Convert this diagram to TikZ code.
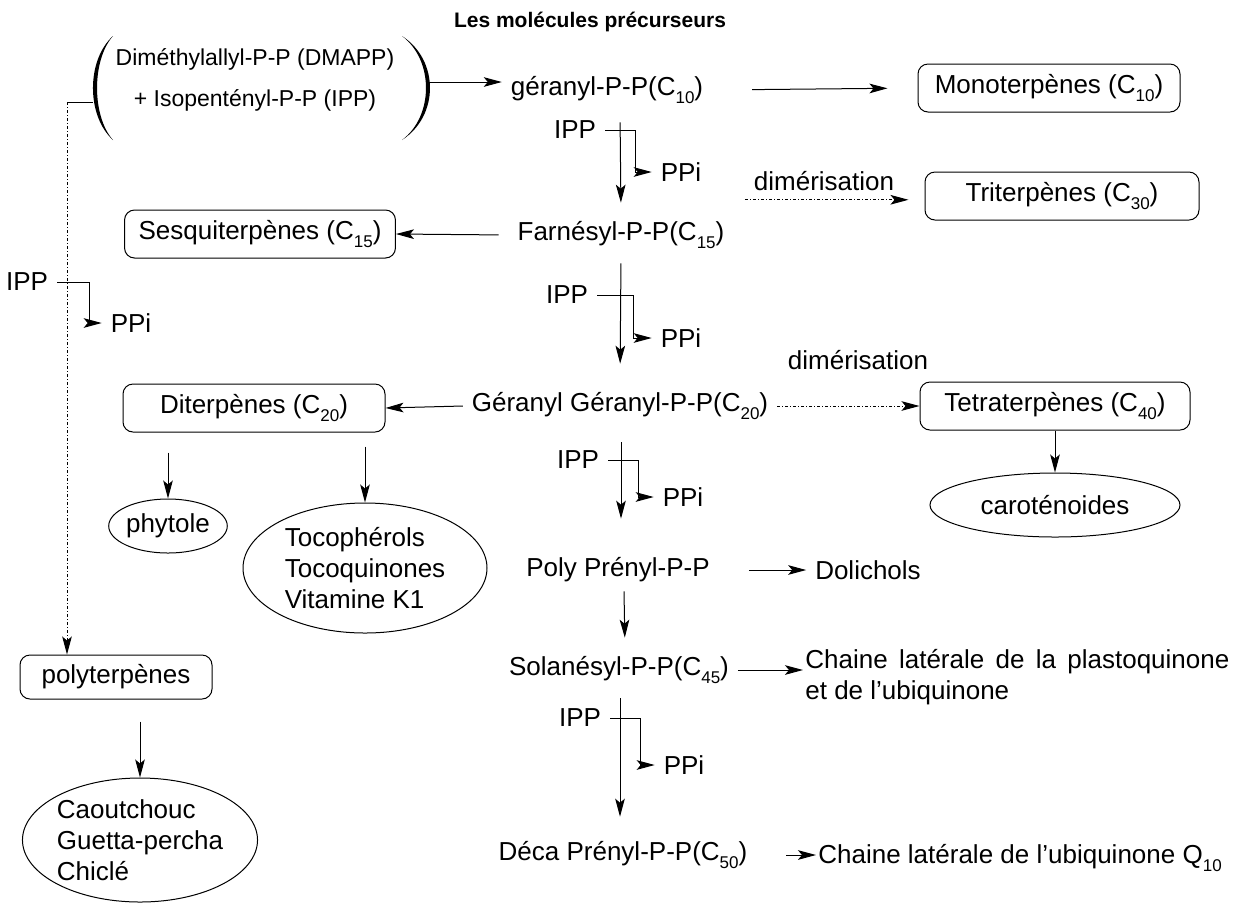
\documentclass[tikz,border=0pt]{standalone}
\usepackage{fontspec}
\setmainfont{Liberation Sans}
\usetikzlibrary{arrows.meta,shapes.geometric}
\newcommand\lowidx[1]{\raisebox{-3.6pt}{\fontsize{8.5pt}{9pt}\selectfont #1}}

\begin{document}
\begin{tikzpicture}[x=0.5pt, y=-0.5pt,
  line/.style={-{Stealth[length=9pt,width=4.8pt,inset=2pt]}, draw=black, line width=0.5pt},
  plain/.style={draw=black, line width=0.5pt},
  dimer/.style={line, dash pattern=on 1.6pt off 1pt on 0.4pt off 1pt},
  box/.style={draw=black, rounded corners=5pt, line width=0.5pt, minimum height=24pt, inner xsep=7pt},
  blob/.style={ellipse, draw=black, line width=0.5pt, inner sep=0pt, align=left},
  node font=\fontsize{13pt}{15.6pt}\selectfont]

  \useasboundingbox (0,0) rectangle (1239,918);

  \node (title) at (590,22) {\fontsize{10.5pt}{12pt}\selectfont\bfseries Les molécules précurseurs};

  % precursors and main chain
  \node[inner sep=0pt, minimum width=172pt, align=center, font=\fontsize{11.5pt}{13.8pt}\selectfont] (precursors) at (255,80) {Diméthylallyl-P-P (DMAPP)\\[6.4pt] + Isopentényl-P-P (IPP)};
  \fill (113,36) .. controls (86.3,60) and (86.3,116) .. (113,140) .. controls (91.7,116) and (91.7,60) .. (113,36);
  \fill (402,36) .. controls (439.3,60) and (439.3,116) .. (402,140) .. controls (434,116) and (434,60) .. (402,36);
  \node (geranyl)  at (607,90)  {géranyl-P-P(C\lowidx{10})};
  \node (farnesyl) at (621,235) {Farnésyl-P-P(C\lowidx{15})};
  \node (ggpp)     at (620,406) {Géranyl Géranyl-P-P(C\lowidx{20})};
  \node (poly)     at (618,570) {Poly Prényl-P-P};
  \node (sola)     at (619,670) {Solanésyl-P-P(C\lowidx{45})};
  \node (deca)     at (623,855) {Déca Prényl-P-P(C\lowidx{50})};

  % IPP / PPi
  \node (ippA) at (575,130) {IPP};  \node (ppiA) at (681,172) {PPi};
  \node (ippB) at (567,295) {IPP};  \node (ppiB) at (681,338) {PPi};
  \node (ippC) at (578,460) {IPP};  \node (ppiC) at (683,497) {PPi};
  \node (ippD) at (580,718) {IPP};  \node (ppiD) at (684,765) {PPi};
  \node (ippL) at (27,282)  {IPP};  \node (ppiL) at (131,323) {PPi};

  % products
  \node[box, minimum width=131pt] (mono)   at (1049,88)  {Monoterpènes (C\lowidx{10})};
  \node[box, minimum width=134pt] (sesqui) at (260,234)  {Sesquiterpènes (C\lowidx{15})};
  \node[box, minimum width=137pt] (tri)    at (1062,196) {Triterpènes (C\lowidx{30})};
  \node[box, minimum width=131pt] (di)     at (254,408)  {Diterpènes (C\lowidx{20})};
  \node[box, minimum width=135pt] (tetra)  at (1055,406) {Tetraterpènes (C\lowidx{40})};
  \node[box, minimum width=96pt, minimum height=22pt] (polyb) at (116,677) {polyterpènes};

  \node (dimA) at (824,181) {dimérisation};
  \node (dimB) at (858,360) {dimérisation};

  \node[blob, minimum width=125pt, minimum height=32pt] (carot) at (1055,505) {caroténoides};
  \node[blob, minimum width=57pt, minimum height=27pt]  (phyt)  at (168,526)  {phytole};
  \node[blob, minimum width=122pt, minimum height=65pt] (toco)  at (365,568)  {Tocophérols\\Tocoquinones\\Vitamine K1};
  \node[blob, minimum width=110pt, minimum height=62pt] (caout) at (140,840)  {Caoutchouc\\Guetta-percha\\Chiclé};

  \node (doli) at (868,570) {Dolichols};
  \node[anchor=west, align=left, inner xsep=1pt] (plasto) at (803,677) {\makebox[212pt][s]{Chaine latérale de la plastoquinone}\\et de l'ubiquinone};
  \node[anchor=west, inner xsep=1pt] (ubi) at (816,858) {Chaine latérale de l'ubiquinone Q\lowidx{10}};

  \coordinate (stub) at (67,102);

  % horizontal arrows
  \draw [line] ([yshift=-1pt]precursors.east) -- ([yshift=-1pt]precursors.east -| geranyl.west);
  \draw [line, shorten <=20pt, shorten >=15pt] (geranyl.east) -- (mono.west);
  \draw [line, shorten <=5pt] (farnesyl.west) -- (sesqui.east);
  \draw [dimer, shorten >=8pt] (dimA.south west) -- (dimA.south west -| tri.west);
  \draw [line] (ggpp.west) -- (di.east);
  \draw [dimer] (ggpp.east) -- (tetra.west);
  \draw [line, shorten <=15pt] (poly.east) -- (doli.west);
  \draw [line] (sola.east) -- (sola.east -| plasto.west);
  \draw [line, shorten <=15pt] (deca.east) -- (deca.east -| ubi.west);

  % vertical arrows
  \draw [line, shorten <=5pt, shorten >=5pt] ([xshift=6.5pt]geranyl.south) -- (farnesyl.north);
  \draw [line, shorten <=3pt, shorten >=10pt] (farnesyl.south) -- (ggpp.north);
  \draw [line, shorten <=7pt, shorten >=15pt] ([xshift=0.5pt]ggpp.south) -- ([xshift=1.5pt]poly.north);
  \draw [line, shorten <=0pt, shorten >=5pt] ([xshift=3pt]poly.south) -- ([xshift=3pt]sola.north);
  \draw [line, shorten <=3pt, shorten >=8pt] ([xshift=0.5pt]sola.south) -- ([xshift=-1.5pt]deca.north);
  \draw [line] (tetra.south) -- (carot.north);
  \draw [line, shorten <=10pt] (di.south -| phyt.north) -- (phyt.north);
  \draw [line, shorten <=7pt] (di.south -| toco.north) -- (toco.north);
  \draw [line, shorten <=11pt] (polyb.south -| caout.north) -- (caout.north);

  % IPP in, PPi out
  \draw [line] (ippA.east) -- ++(15pt,0) |- (ppiA.west);
  \draw [line] (ippB.east) -- ++(18pt,0) |- (ppiB.west);
  \draw [line] (ippC.east) -- ++(15pt,0) |- (ppiC.west);
  \draw [line] (ippD.east) -- ++(15pt,0) |- (ppiD.west);
  \draw [line] (ippL.east) -- ++(16pt,0) |- (ppiL.west);

  % towards polyterpenes
  \draw [plain] (stub) -- (stub -| 93,0);
  \draw [dimer] (stub) -- (stub |- polyb.north);
\end{tikzpicture}
\end{document}
